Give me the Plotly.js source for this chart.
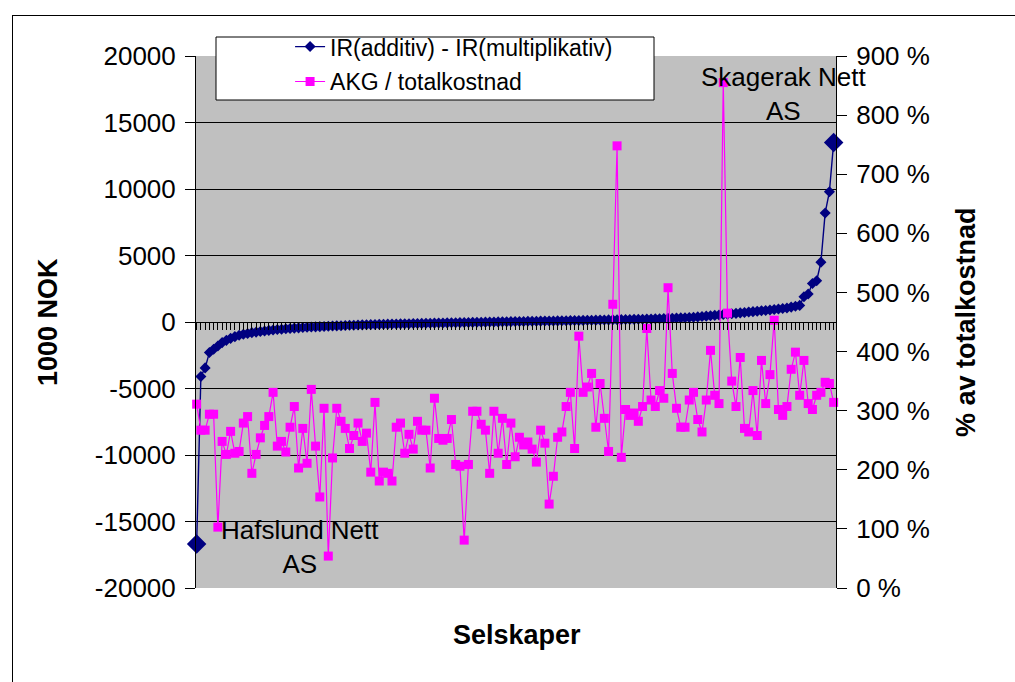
<!DOCTYPE html>
<html>
<head>
<meta charset="utf-8">
<script src="https://cdn.plot.ly/plotly-3.0.1.min.js"></script>
<style>
  html, body { margin: 0; padding: 0; background: #ffffff; overflow: hidden; }
  #chart { width: 1015px; height: 682px; position: absolute; left: 0; top: 0; }
  #frame { position: absolute; left: 12px; top: 15px; width: 1100px; height: 800px; border: 1px solid #000; pointer-events: none; }
</style>
</head>
<body>
<div id="chart"></div>
<div id="frame"></div>
<script>
// IR(additiv) - IR(multiplikativ), 1000 NOK, companies sorted ascending
const irDiff = [
  -16700, -4100, -3450, -2300, -2050, -1800, -1550, -1380, -1230, -1100,
  -1000, -920, -860, -800, -760, -710, -670, -630, -600, -570,
  -540, -510, -490, -460, -440, -420, -400, -380, -365, -350,
  -335, -320, -305, -290, -275, -262, -250, -238, -226, -215,
  -205, -196, -187, -178, -170, -162, -154, -146, -139, -132,
  -125, -118, -111, -104, -97, -90, -83, -76, -70, -64,
  -58, -52, -46, -40, -34, -28, -22, -16, -10, -4,
  2, 8, 14, 20, 26, 32, 38, 44, 50, 56,
  61, 66, 71, 76, 81, 86, 92, 98, 104, 110,
  116, 122, 128, 134, 140, 146, 152, 158, 164, 170,
  177, 184, 191, 198, 205, 213, 222, 231, 240, 250,
  260, 272, 284, 296, 310, 325, 340, 360, 385, 410,
  440, 470, 500, 530, 560, 590, 620, 650, 685, 720,
  750, 780, 810, 840, 870, 905, 940, 975, 1010, 1050,
  1120, 1180, 1250, 1900, 2100, 2900, 3100, 4500, 8200, 9800,
  13500
];
// AKG / totalkostnad, percent
const akgShare = [
  311, 267, 267, 294, 294, 103, 248, 226, 265, 228,
  231, 279, 290, 194, 226, 254, 275, 290, 331, 240,
  248, 230, 272, 307, 203, 270, 211, 336, 240, 154,
  304, 54, 220, 304, 282, 270, 236, 258, 279, 248,
  262, 196, 314, 181, 196, 194, 181, 272, 279, 228,
  260, 235, 282, 267, 267, 203, 321, 253, 250, 253,
  285, 209, 206, 81, 209, 299, 299, 277, 267, 194,
  299, 228, 287, 209, 279, 222, 255, 242, 247, 235,
  213, 267, 245, 142, 189, 255, 264, 307, 331, 236,
  426, 331, 340, 363, 272, 346, 287, 231, 480, 748,
  221, 302, 292, 296, 282, 307, 439, 318, 307, 334,
  321, 508, 363, 304, 272, 272, 318, 331, 285, 264,
  318, 402, 326, 312, 855, 465, 350, 307, 390, 270,
  264, 334, 258, 385, 312, 361, 453, 302, 292, 307,
  370, 399, 326, 385, 312, 302, 326, 331, 348, 346,
  314
];
const leftTicks = [-20000, -15000, -10000, -5000, 0, 5000, 10000, 15000, 20000];
const leftTickText = ['-20000', '-15000', '-10000', '-5000', '0', '5000', '10000', '15000', '20000'];
const rightTicks = [0, 100, 200, 300, 400, 500, 600, 700, 800, 900];
const rightTickText = ['0 %', '100 %', '200 %', '300 %', '400 %', '500 %', '600 %', '700 %', '800 %', '900 %'];
const seriesNames = ['IR(additiv) - IR(multiplikativ)', 'AKG / totalkostnad'];
const labelFirst = 'Hafslund Nett<br>AS';
const labelLast = 'Skagerak Nett<br>AS';

const companies = irDiff.map((v, i) => i + 1);
const n = companies.length;
const FONT = 'Liberation Sans, Arial, sans-serif';
const NAVY = '#000080';
const MAG = '#FF00FF';

const traces = [
  {
    x: companies, y: irDiff, name: seriesNames[0], type: 'scatter', mode: 'lines+markers',
    line: { color: NAVY, width: 1.4 },
    marker: { symbol: 'diamond', size: 8.5, color: NAVY },
    cliponaxis: false, legendgroup: 'a', xaxis: 'x', yaxis: 'y'
  },
  {
    x: [companies[0], companies[n - 1]], y: [irDiff[0], irDiff[n - 1]], type: 'scatter', mode: 'markers',
    marker: { symbol: 'diamond', size: 15, color: NAVY },
    showlegend: false, cliponaxis: false, hoverinfo: 'skip', xaxis: 'x', yaxis: 'y'
  },
  {
    x: companies, y: akgShare, name: seriesNames[1], type: 'scatter', mode: 'lines+markers',
    line: { color: MAG, width: 1.2 },
    marker: { symbol: 'square', size: 9, color: MAG },
    cliponaxis: false, legendgroup: 'b', xaxis: 'x', yaxis: 'y2'
  }
];

const layout = {
  width: 1015, height: 682,
  margin: { l: 196, r: 179, t: 56, b: 94 },
  paper_bgcolor: '#ffffff',
  plot_bgcolor: '#C0C0C0',
  font: { family: FONT, color: '#000000' },
  showlegend: true,
  legend: {
    x: 0.147, y: 1.058, xanchor: 'left', yanchor: 'top',
    bgcolor: 'rgba(0,0,0,0)', borderwidth: 0,
    font: { family: FONT, size: 23, color: '#000' },
    traceorder: 'grouped', tracegroupgap: 2
  },
  xaxis: {
    range: [0.85, n + 0.55],
    anchor: 'free', position: 0.5,
    showline: true, linecolor: '#000', linewidth: 1,
    ticks: 'outside', tick0: 1, dtick: 1, ticklen: 7, tickcolor: '#000', tickwidth: 1,
    showticklabels: false, showgrid: false, zeroline: false
  },
  yaxis: {
    range: [-20000, 20000],
    tickmode: 'array', tickvals: leftTicks, ticktext: leftTickText,
    tickfont: { family: FONT, size: 26, color: '#000' },
    ticks: 'outside', ticklen: 10, tickcolor: '#000', ticklabelstandoff: 4,
    showline: true, linecolor: '#000', linewidth: 1,
    showgrid: true, gridcolor: '#000', gridwidth: 1, zeroline: false
  },
  yaxis2: {
    range: [0, 900], overlaying: 'y', side: 'right', anchor: 'x',
    tickmode: 'array', tickvals: rightTicks, ticktext: rightTickText,
    tickfont: { family: FONT, size: 26, color: '#000' },
    ticks: 'outside', ticklen: 10, tickcolor: '#000', ticklabelstandoff: 4,
    showline: true, linecolor: '#000', linewidth: 1,
    showgrid: false, zeroline: false
  },
  shapes: [
    {
      type: 'rect', xref: 'paper', yref: 'paper', layer: 'above',
      x0: (216 - 196) / 640, x1: (654 - 196) / 640,
      y0: (588 - 100) / 532, y1: (588 - 37) / 532,
      fillcolor: '#ffffff', line: { color: '#000', width: 1 }
    }
  ],
  annotations: [
    { text: '<b>1000 NOK</b>', xref: 'paper', yref: 'paper', x: (48 - 196) / 640, y: 0.5,
      xanchor: 'center', yanchor: 'middle',
      textangle: -90, showarrow: false, font: { family: FONT, size: 27, color: '#000' } },
    { text: '<b>% av totalkostnad</b>', xref: 'paper', yref: 'paper', x: (966 - 196) / 640, y: 0.5,
      xanchor: 'center', yanchor: 'middle',
      textangle: -90, showarrow: false, font: { family: FONT, size: 27, color: '#000' } },
    { text: '<b>Selskaper</b>', xref: 'paper', yref: 'paper', x: (517 - 196) / 640, y: (588 - 635) / 532,
      xanchor: 'center', yanchor: 'middle',
      showarrow: false, font: { family: FONT, size: 27, color: '#000' } },
    { text: labelFirst, xref: 'paper', yref: 'paper', x: (300 - 196) / 640, y: (588 - 547) / 532,
      xanchor: 'center', yanchor: 'middle',
      showarrow: false, align: 'center', font: { family: FONT, size: 26, color: '#000' } },
    { text: labelLast, xref: 'paper', yref: 'paper', x: (784 - 196) / 640, y: (588 - 94) / 532,
      xanchor: 'center', yanchor: 'middle',
      showarrow: false, align: 'center', font: { family: FONT, size: 26, color: '#000' } }
  ]
};

Plotly.newPlot('chart', traces, layout, { displayModeBar: false, staticPlot: true });
</script>
</body>
</html>
